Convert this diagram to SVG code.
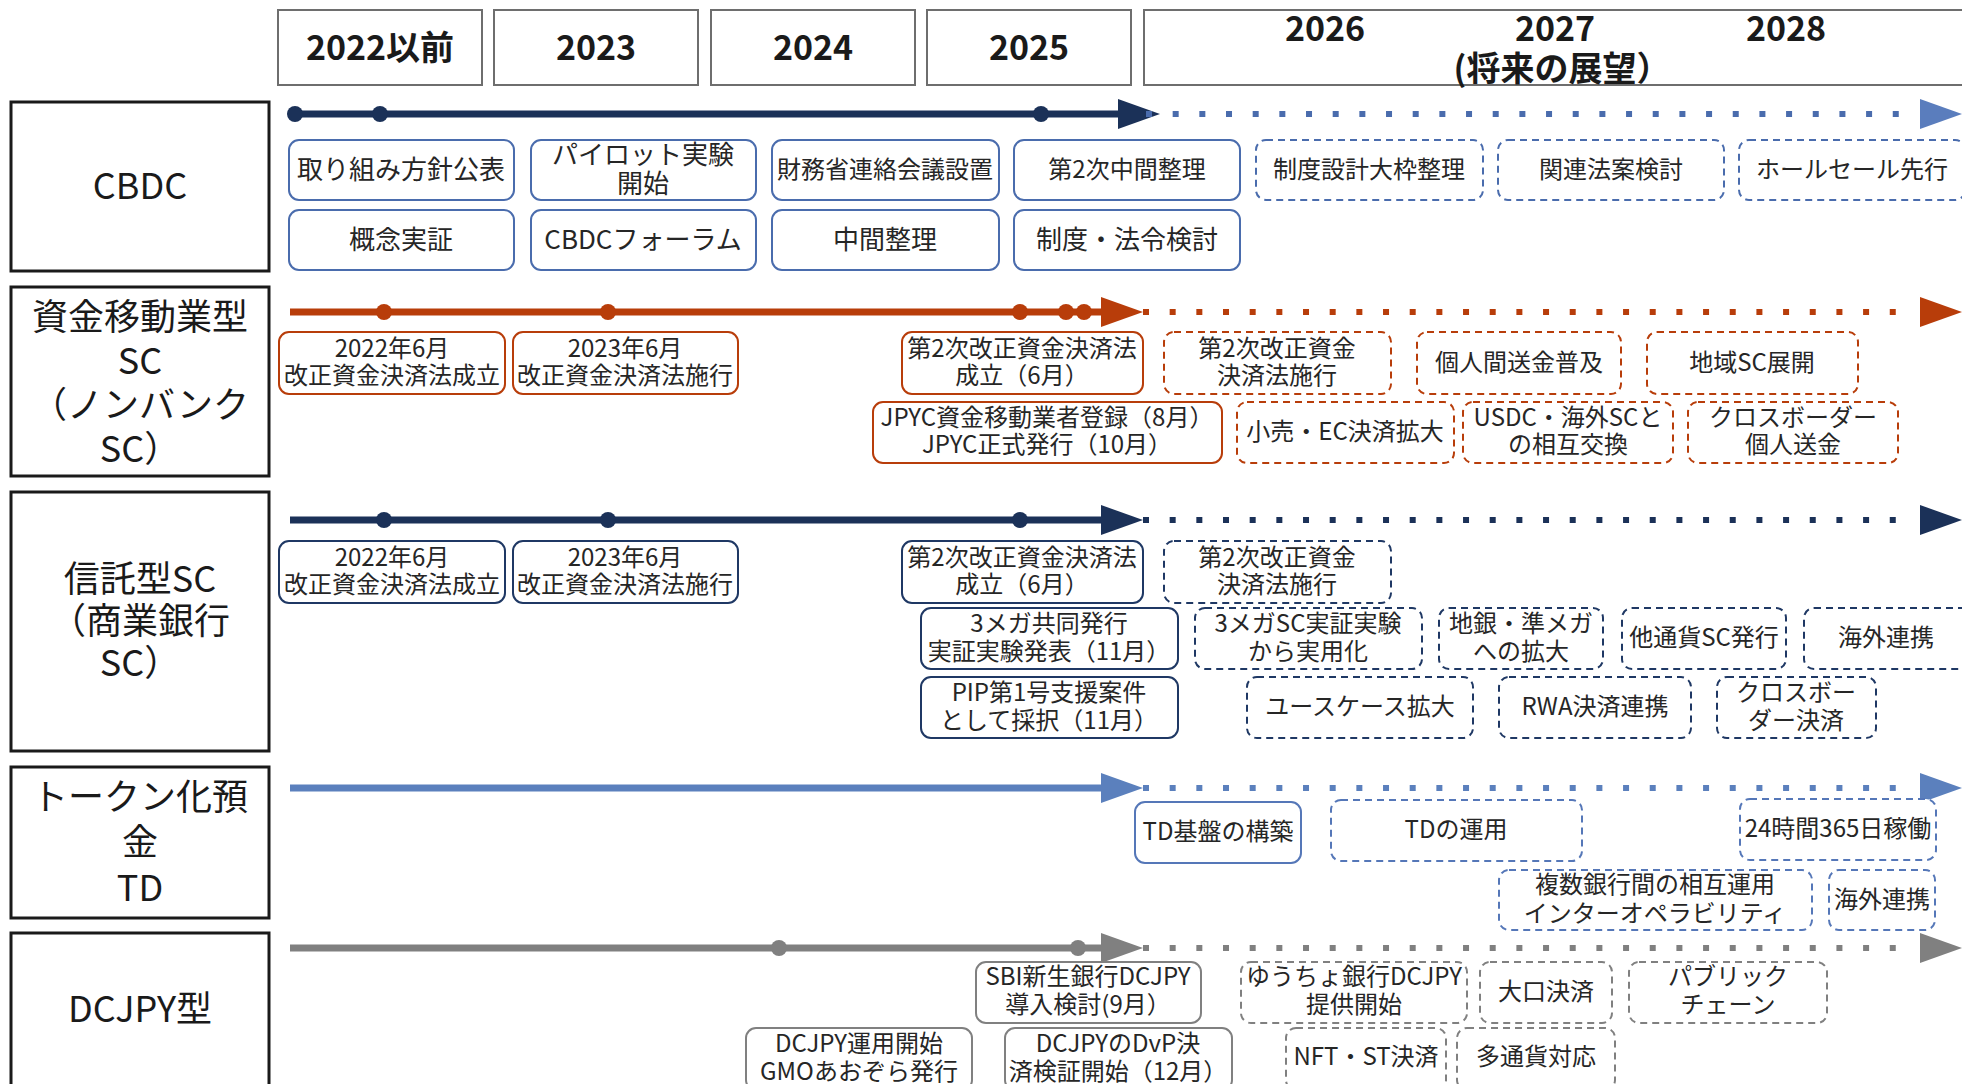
<svg xmlns="http://www.w3.org/2000/svg" xmlns:xlink="http://www.w3.org/1999/xlink" width="1962" height="1084" viewBox="0 0 1962 1084">
<style>
text{font-family:"Noto Sans CJK JP","Noto Sans",sans-serif;text-anchor:middle;dominant-baseline:central;fill:#262626;transform:translate(0px,-3px)}
.hdr{fill:#fff;stroke:#6e6e6e;stroke-width:2}
.ht{font-size:34px;font-weight:700;fill:#1a1a1a}
.lbl{fill:#fff;stroke:#1a1a1a;stroke-width:3}
.lt{font-size:36px;fill:#1a1a1a}
.b{fill:#fff;stroke-width:2}
.d{stroke-dasharray:7 5}
.blue{stroke:#4a6cad}
.org{stroke:#b83d0a}
.navy{stroke:#1f3864}
.tdc{stroke:#5577b8}
.gry{stroke:#808080}
.t{font-size:24px}
.t26{font-size:26px}
.sl{fill:none;stroke-width:7}
.dl{fill:none;stroke-width:6;stroke-dasharray:6 20.67}
</style>
<defs>
<path id="head" d="M0,-15 L42,0 L0,15 Z"/>
<circle id="dot" r="8"/>
</defs>

<!-- header -->
<g id="header">
<g id="h2022"><rect class="hdr" x="278" y="10" width="204" height="75"/><text class="ht" x="380" y="48">2022以前</text></g>
<g id="h2023"><rect class="hdr" x="494" y="10" width="204" height="75"/><text class="ht" x="596" y="48">2023</text></g>
<g id="h2024"><rect class="hdr" x="711" y="10" width="204" height="75"/><text class="ht" x="813" y="48">2024</text></g>
<g id="h2025"><rect class="hdr" x="927" y="10" width="204" height="75"/><text class="ht" x="1029" y="48">2025</text></g>
<g id="hfuture"><rect class="hdr" x="1144" y="10" width="830" height="75"/>
<text class="ht" x="1325" y="29">2026</text><text class="ht" x="1555" y="29">2027</text><text class="ht" x="1786" y="29">2028</text>
<text class="ht" x="1562" y="69">(将来の展望）</text></g>
</g>

<!-- row labels -->
<g id="lbl-cbdc"><rect class="lbl" x="11" y="102" width="258" height="169"/><text class="lt" x="140" y="186">CBDC</text></g>
<g id="lbl-shikin"><rect class="lbl" x="11" y="287" width="258" height="189"/>
<text class="lt"><tspan x="140" y="317">資金移動業型</tspan><tspan x="140" y="361">SC</tspan><tspan x="140" y="405">（ノンバンク</tspan><tspan x="140" y="449">SC）</tspan></text></g>
<g id="lbl-shintaku"><rect class="lbl" x="11" y="492" width="258" height="259"/>
<text class="lt"><tspan x="140" y="579">信託型SC</tspan><tspan x="140" y="621">（商業銀行</tspan><tspan x="140" y="663">SC）</tspan></text></g>
<g id="lbl-td"><rect class="lbl" x="11" y="767" width="258" height="151"/>
<text class="lt"><tspan x="140" y="797">トークン化預</tspan><tspan x="140" y="842">金</tspan><tspan x="140" y="888">TD</tspan></text></g>
<g id="lbl-dcjpy"><rect class="lbl" x="11" y="933" width="258" height="170"/><text class="lt" x="140" y="1009">DCJPY型</text></g>

<!-- connectors / timelines -->
<g id="connectors">
<g id="tl-cbdc">
<line class="sl" x1="295" y1="114" x2="1122" y2="114" stroke="#1b3158"/>
<use xlink:href="#dot" x="295" y="114" fill="#1b3158"/><use xlink:href="#dot" x="380" y="114" fill="#1b3158"/><use xlink:href="#dot" x="1041" y="114" fill="#1b3158"/>
<use xlink:href="#head" x="1118" y="114" fill="#1b3158"/>
<line class="dl" x1="1146" y1="114" x2="1915" y2="114" stroke="#4a6cad"/>
<use xlink:href="#head" x="1920" y="114" fill="#5a7dbd"/>
</g>
<g id="tl-shikin">
<line class="sl" x1="290" y1="312" x2="1104" y2="312" stroke="#b83d0a"/>
<use xlink:href="#dot" x="384" y="312" fill="#b83d0a"/><use xlink:href="#dot" x="608" y="312" fill="#b83d0a"/><use xlink:href="#dot" x="1020" y="312" fill="#b83d0a"/><use xlink:href="#dot" x="1066" y="312" fill="#b83d0a"/><use xlink:href="#dot" x="1084" y="312" fill="#b83d0a"/>
<use xlink:href="#head" x="1101" y="312" fill="#b83d0a"/>
<line class="dl" x1="1143" y1="312" x2="1915" y2="312" stroke="#b83d0a"/>
<use xlink:href="#head" x="1920" y="312" fill="#b83d0a"/>
</g>
<g id="tl-shintaku">
<line class="sl" x1="290" y1="520" x2="1104" y2="520" stroke="#1b3158"/>
<use xlink:href="#dot" x="384" y="520" fill="#1b3158"/><use xlink:href="#dot" x="608" y="520" fill="#1b3158"/><use xlink:href="#dot" x="1020" y="520" fill="#1b3158"/>
<use xlink:href="#head" x="1101" y="520" fill="#1b3158"/>
<line class="dl" x1="1143" y1="520" x2="1915" y2="520" stroke="#1b3158"/>
<use xlink:href="#head" x="1920" y="520" fill="#1b3158"/>
</g>
<g id="tl-td">
<line class="sl" x1="290" y1="788" x2="1104" y2="788" stroke="#5b80bd"/>
<use xlink:href="#head" x="1101" y="788" fill="#5b80bd"/>
<line class="dl" x1="1143" y1="788" x2="1915" y2="788" stroke="#5b80bd"/>
<use xlink:href="#head" x="1920" y="788" fill="#5b80bd"/>
</g>
<g id="tl-dcjpy">
<line class="sl" x1="290" y1="948" x2="1104" y2="948" stroke="#808080"/>
<use xlink:href="#dot" x="779" y="948" fill="#808080"/><use xlink:href="#dot" x="1078" y="948" fill="#808080"/>
<use xlink:href="#head" x="1101" y="948" fill="#808080"/>
<line class="dl" x1="1143" y1="948" x2="1915" y2="948" stroke="#808080"/>
<use xlink:href="#head" x="1920" y="948" fill="#808080"/>
</g>
</g>

<!-- CBDC nodes -->
<g id="c1"><rect class="b blue" x="289" y="140" width="225" height="60" rx="10"/><text class="t26" x="401" y="170">取り組み方針公表</text></g>
<g id="c2"><rect class="b blue" x="531" y="140" width="225" height="60" rx="10"/><text class="t26"><tspan x="643" y="155">パイロット実験</tspan><tspan x="643" y="184">開始</tspan></text></g>
<g id="c3"><rect class="b blue" x="772" y="140" width="227" height="60" rx="10"/><text class="t" x="885" y="170">財務省連絡会議設置</text></g>
<g id="c4"><rect class="b blue" x="1014" y="140" width="226" height="60" rx="10"/><text class="t" x="1127" y="170">第2次中間整理</text></g>
<g id="c5"><rect class="b blue d" x="1256" y="140" width="227" height="60" rx="10"/><text class="t" x="1369" y="170">制度設計大枠整理</text></g>
<g id="c6"><rect class="b blue d" x="1498" y="140" width="226" height="60" rx="10"/><text class="t" x="1611" y="170">関連法案検討</text></g>
<g id="c7"><rect class="b blue d" x="1739" y="140" width="226" height="60" rx="10"/><text class="t" x="1852" y="170">ホールセール先行</text></g>
<g id="c8"><rect class="b blue" x="289" y="210" width="225" height="60" rx="10"/><text class="t26" x="401" y="240">概念実証</text></g>
<g id="c9"><rect class="b blue" x="531" y="210" width="225" height="60" rx="10"/><text class="t26" x="643" y="240">CBDCフォーラム</text></g>
<g id="c10"><rect class="b blue" x="772" y="210" width="227" height="60" rx="10"/><text class="t26" x="885" y="240">中間整理</text></g>
<g id="c11"><rect class="b blue" x="1014" y="210" width="226" height="60" rx="10"/><text class="t26" x="1127" y="240">制度・法令検討</text></g>

<!-- 資金移動業型 nodes -->
<g id="s1"><rect class="b org" x="279" y="332" width="226" height="62" rx="10"/><text class="t"><tspan x="392" y="349">2022年6月</tspan><tspan x="392" y="376">改正資金決済法成立</tspan></text></g>
<g id="s2"><rect class="b org" x="513" y="332" width="225" height="62" rx="10"/><text class="t"><tspan x="625" y="349">2023年6月</tspan><tspan x="625" y="376">改正資金決済法施行</tspan></text></g>
<g id="s3"><rect class="b org" x="902" y="332" width="241" height="62" rx="10"/><text class="t"><tspan x="1022" y="349">第2次改正資金決済法</tspan><tspan x="1022" y="376">成立（6月）</tspan></text></g>
<g id="s4"><rect class="b org d" x="1164" y="332" width="227" height="62" rx="10"/><text class="t"><tspan x="1277" y="349">第2次改正資金</tspan><tspan x="1277" y="376">決済法施行</tspan></text></g>
<g id="s5"><rect class="b org d" x="1417" y="332" width="204" height="62" rx="10"/><text class="t" x="1519" y="363">個人間送金普及</text></g>
<g id="s6"><rect class="b org d" x="1647" y="332" width="211" height="62" rx="10"/><text class="t" x="1752" y="363">地域SC展開</text></g>
<g id="s7"><rect class="b org" x="873" y="402" width="349" height="61" rx="10"/><text class="t"><tspan x="1047" y="418">JPYC資金移動業者登録（8月）</tspan><tspan x="1047" y="445">JPYC正式発行（10月）</tspan></text></g>
<g id="s8"><rect class="b org d" x="1237" y="402" width="217" height="61" rx="10"/><text class="t" x="1345" y="432">小売・EC決済拡大</text></g>
<g id="s9"><rect class="b org d" x="1463" y="402" width="210" height="61" rx="10"/><text class="t"><tspan x="1568" y="418">USDC・海外SCと</tspan><tspan x="1568" y="445">の相互交換</tspan></text></g>
<g id="s10"><rect class="b org d" x="1688" y="402" width="210" height="61" rx="10"/><text class="t"><tspan x="1793" y="418">クロスボーダー</tspan><tspan x="1793" y="445">個人送金</tspan></text></g>

<!-- 信託型SC nodes -->
<g id="t1"><rect class="b navy" x="279" y="541" width="226" height="62" rx="10"/><text class="t"><tspan x="392" y="558">2022年6月</tspan><tspan x="392" y="585">改正資金決済法成立</tspan></text></g>
<g id="t2"><rect class="b navy" x="513" y="541" width="225" height="62" rx="10"/><text class="t"><tspan x="625" y="558">2023年6月</tspan><tspan x="625" y="585">改正資金決済法施行</tspan></text></g>
<g id="t3"><rect class="b navy" x="902" y="541" width="241" height="62" rx="10"/><text class="t"><tspan x="1022" y="558">第2次改正資金決済法</tspan><tspan x="1022" y="585">成立（6月）</tspan></text></g>
<g id="t4"><rect class="b navy d" x="1164" y="541" width="227" height="62" rx="10"/><text class="t"><tspan x="1277" y="558">第2次改正資金</tspan><tspan x="1277" y="585">決済法施行</tspan></text></g>
<g id="t5"><rect class="b navy" x="921" y="608" width="257" height="61" rx="10"/><text class="t"><tspan x="1049" y="624">3メガ共同発行</tspan><tspan x="1049" y="652">実証実験発表（11月）</tspan></text></g>
<g id="t6"><rect class="b navy d" x="1195" y="608" width="227" height="61" rx="10"/><text class="t"><tspan x="1308" y="624">3メガSC実証実験</tspan><tspan x="1308" y="652">から実用化</tspan></text></g>
<g id="t7"><rect class="b navy d" x="1439" y="608" width="164" height="61" rx="10"/><text class="t"><tspan x="1521" y="624">地銀・準メガ</tspan><tspan x="1521" y="652">への拡大</tspan></text></g>
<g id="t8"><rect class="b navy d" x="1622" y="608" width="164" height="61" rx="10"/><text class="t" x="1704" y="638">他通貨SC発行</text></g>
<g id="t9"><rect class="b navy d" x="1804" y="608" width="170" height="61" rx="10"/><text class="t" x="1886" y="638">海外連携</text></g>
<g id="t10"><rect class="b navy" x="921" y="677" width="257" height="61" rx="10"/><text class="t"><tspan x="1049" y="693">PIP第1号支援案件</tspan><tspan x="1049" y="721">として採択（11月）</tspan></text></g>
<g id="t11"><rect class="b navy d" x="1247" y="677" width="226" height="61" rx="10"/><text class="t" x="1360" y="707">ユースケース拡大</text></g>
<g id="t12"><rect class="b navy d" x="1499" y="677" width="192" height="61" rx="10"/><text class="t" x="1595" y="707">RWA決済連携</text></g>
<g id="t13"><rect class="b navy d" x="1717" y="677" width="159" height="61" rx="10"/><text class="t"><tspan x="1796" y="693">クロスボー</tspan><tspan x="1796" y="721">ダー決済</tspan></text></g>

<!-- TD nodes -->
<g id="d1"><rect class="b tdc" x="1135" y="802" width="166" height="61" rx="10"/><text class="t" x="1218" y="832">TD基盤の構築</text></g>
<g id="d2"><rect class="b tdc d" x="1331" y="800" width="251" height="61" rx="10"/><text class="t" x="1456" y="830">TDの運用</text></g>
<g id="d3"><rect class="b tdc d" x="1740" y="799" width="196" height="61" rx="10"/><text class="t" x="1838" y="829">24時間365日稼働</text></g>
<g id="d4"><rect class="b tdc d" x="1499" y="870" width="313" height="60" rx="10"/><text class="t"><tspan x="1655" y="885">複数銀行間の相互運用</tspan><tspan x="1655" y="914">インターオペラビリティ</tspan></text></g>
<g id="d5"><rect class="b tdc d" x="1829" y="870" width="106" height="60" rx="10"/><text class="t" x="1882" y="900">海外連携</text></g>

<!-- DCJPY nodes -->
<g id="g1"><rect class="b gry" x="976" y="962" width="225" height="61" rx="10"/><text class="t"><tspan x="1088" y="977">SBI新生銀行DCJPY</tspan><tspan x="1088" y="1005">導入検討(9月）</tspan></text></g>
<g id="g2"><rect class="b gry d" x="1241" y="962" width="226" height="61" rx="10"/><text class="t"><tspan x="1354" y="977">ゆうちょ銀行DCJPY</tspan><tspan x="1354" y="1005">提供開始</tspan></text></g>
<g id="g3"><rect class="b gry d" x="1480" y="962" width="132" height="61" rx="10"/><text class="t" x="1546" y="992">大口決済</text></g>
<g id="g4"><rect class="b gry d" x="1629" y="962" width="198" height="61" rx="10"/><text class="t"><tspan x="1728" y="977">パブリック</tspan><tspan x="1728" y="1005">チェーン</tspan></text></g>
<g id="g5"><rect class="b gry" x="746" y="1028" width="226" height="62" rx="10"/><text class="t"><tspan x="859" y="1044">DCJPY運用開始</tspan><tspan x="859" y="1072">GMOあおぞら発行</tspan></text></g>
<g id="g6"><rect class="b gry" x="1005" y="1028" width="227" height="62" rx="10"/><text class="t"><tspan x="1118" y="1044">DCJPYのDvP決</tspan><tspan x="1118" y="1072">済検証開始（12月）</tspan></text></g>
<g id="g7"><rect class="b gry d" x="1286" y="1028" width="160" height="62" rx="10"/><text class="t" x="1366" y="1057">NFT・ST決済</text></g>
<g id="g8"><rect class="b gry d" x="1457" y="1028" width="158" height="62" rx="10"/><text class="t" x="1536" y="1057">多通貨対応</text></g>
</svg>
